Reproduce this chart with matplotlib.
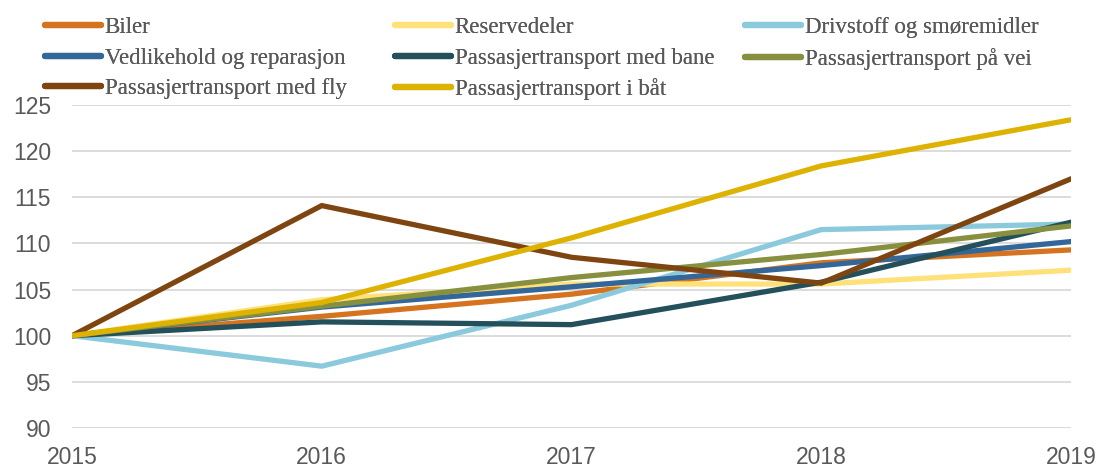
import matplotlib
matplotlib.use("Agg")
import matplotlib.pyplot as plt

years = [2015, 2016, 2017, 2018, 2019]
series_names = [
    "Biler", "Reservedeler", "Drivstoff og smøremidler",
    "Vedlikehold og reparasjon", "Passasjertransport med bane", "Passasjertransport på vei",
    "Passasjertransport med fly", "Passasjertransport i båt",
]
biler = [100, 102.1, 104.5, 107.9, 109.3]
reservedeler = [100, 103.9, 105.6, 105.6, 107.1]
drivstoff = [100, 96.7, 103.3, 111.5, 112.1]
vedlikehold = [100, 103.1, 105.3, 107.6, 110.2]
bane = [100, 101.5, 101.2, 105.8, 112.3]
vei = [100, 103.2, 106.3, 108.8, 111.9]
fly = [100, 114.1, 108.5, 105.7, 117.0]
baat = [100, 103.6, 110.6, 118.4, 123.4]
values = [biler, reservedeler, drivstoff, vedlikehold, bane, vei, fly, baat]
colors = ["#D5731E", "#FFE17A", "#8BC9DC", "#33679A", "#23505A", "#87903F", "#7E4511", "#DDB200"]

yticks = [90, 95, 100, 105, 110, 115, 120, 125]

fig = plt.figure(figsize=(10.99, 4.67), dpi=100)
ax = fig.add_axes([72/1099, 1 - 428/467, (1071 - 72)/1099, (428 - 105)/467])

handles = []
for name, vals, c in zip(series_names, values, colors):
    ln, = ax.plot(years, vals, color=c, lw=3.8, label=name, solid_capstyle="round", solid_joinstyle="miter")
    handles.append(ln)

ax.set_xlim(2015, 2019)
ax.set_ylim(90, 125)
ax.set_yticks(yticks)
ax.set_xticks(years)
ax.grid(axis="y", color="#D9D9D9", lw=1.3)
ax.set_axisbelow(True)
for s in ax.spines.values():
    s.set_visible(False)
ax.tick_params(length=0, labelsize=16.5, labelcolor="#595959")
ax.tick_params(axis="y", pad=15)
ax.tick_params(axis="x", pad=13)
for t in ax.get_xticklabels() + ax.get_yticklabels():
    t.set_fontfamily("Liberation Sans")

col_x = [45, 395, 745]
for i, x in enumerate(col_x):
    idx = list(range(i, len(handles), 3))
    leg = fig.legend([handles[j] for j in idx], [series_names[j] for j in idx],
                     loc="upper left", bbox_to_anchor=(x/1099, 1 - 17/467), ncol=1, frameon=False,
                     prop={"family": "Liberation Serif", "size": 16.5},
                     handlelength=2.45, handletextpad=0.15, labelspacing=0.42,
                     borderpad=0, borderaxespad=0)
    for t in leg.get_texts():
        t.set_color("#595959")
    for h in leg.get_lines():
        h.set_linewidth(4.5)
        h.set_solid_capstyle("round")
    fig.add_artist(leg)

fig.savefig("out.png", dpi=100)
